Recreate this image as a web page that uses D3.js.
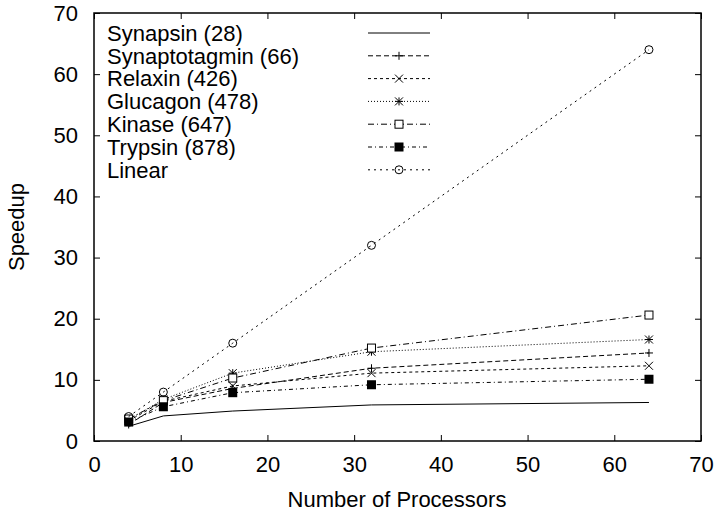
<!DOCTYPE html>
<html>
<head>
<meta charset="utf-8">
<script src="https://cdn.jsdelivr.net/npm/d3@7"></script>
<style>
  body { margin: 0; background: #fff; }
  svg text { font-family: "Liberation Sans", Arial, sans-serif; fill: #000; }
</style>
</head>
<body>
<svg id="chart" width="718" height="514"></svg>
<script>
// processor counts on the x axis
const processors = [4, 8, 16, 32, 64];

// speedup per protein (number of residues in brackets)
const synapsin      = [2.4, 4.1, 4.9, 5.9, 6.3];
const synaptotagmin = [2.7, 6.3, 8.6, 11.9, 14.4];
const relaxin       = [3.3, 6.5, 9.0, 11.1, 12.3];
const glucagon      = [3.5, 6.8, 11.1, 14.6, 16.6];
const kinase        = [3.6, 6.6, 10.3, 15.2, 20.6];
const trypsin       = [3.1, 5.6, 7.9, 9.2, 10.1];
const linear        = [4, 8, 16, 32, 64];

const seriesNames = ['Synapsin (28)', 'Synaptotagmin (66)', 'Relaxin (426)', 'Glucagon (478)',
                     'Kinase (647)', 'Trypsin (878)', 'Linear'];
const seriesValues = [synapsin, synaptotagmin, relaxin, glucagon, kinase, trypsin, linear];

const xTicks = [0, 10, 20, 30, 40, 50, 60, 70];
const yTicks = [0, 10, 20, 30, 40, 50, 60, 70];

// gnuplot-ish line / point styles
const dashes  = [null, '5,3', '3,3', '1,2', '6,3,1,3', '4,3,1,3', '2,4'];
const markers = ['none', 'plus', 'cross', 'star', 'box', 'boxfill', 'circle'];

const svg = d3.select('#chart');
const margin = { top: 13, right: 17, bottom: 73, left: 94 };
const W = 718, H = 514;
const fontSize = 22;

const x = d3.scaleLinear([0, 70], [margin.left, W - margin.right]);
const y = d3.scaleLinear([0, 70], [H - margin.bottom, margin.top]);

const series = seriesNames.map((name, i) => ({
  name,
  dash: dashes[i],
  marker: markers[i],
  points: processors.map((p, j) => ({ p, v: seriesValues[i][j] }))
}));

// axes with inward ticks on all four sides
function styleAxis(g) {
  g.select('.domain').remove();
  g.selectAll('.tick line').attr('stroke', '#000').attr('stroke-width', 1);
  g.selectAll('.tick text').attr('font-size', fontSize);
}

svg.append('g')
  .attr('transform', `translate(0,${y(0)})`)
  .call(d3.axisBottom(x).tickValues(xTicks).tickSizeInner(-6).tickSizeOuter(0).tickPadding(15))
  .call(styleAxis);

svg.append('g')
  .attr('transform', `translate(0,${y(70)})`)
  .call(d3.axisTop(x).tickValues(xTicks).tickSizeInner(-6).tickSizeOuter(0).tickFormat(''))
  .call(styleAxis);

svg.append('g')
  .attr('transform', `translate(${x(0)},0)`)
  .call(d3.axisLeft(y).tickValues(yTicks).tickSizeInner(-6).tickSizeOuter(0).tickPadding(16))
  .call(styleAxis);

svg.append('g')
  .attr('transform', `translate(${x(70)},0)`)
  .call(d3.axisRight(y).tickValues(yTicks).tickSizeInner(-6).tickSizeOuter(0).tickFormat(''))
  .call(styleAxis);

// frame
svg.append('rect')
  .attr('x', x(0)).attr('y', y(70))
  .attr('width', x(70) - x(0)).attr('height', y(0) - y(70))
  .attr('fill', 'none').attr('stroke', '#000').attr('stroke-width', 1.5);

// axis titles
svg.append('text')
  .attr('x', 397).attr('y', 507)
  .attr('text-anchor', 'middle').attr('font-size', fontSize)
  .text('Number of Processors');

svg.append('text')
  .attr('transform', `translate(24,${(y(0) + y(70)) / 2}) rotate(-90)`)
  .attr('text-anchor', 'middle').attr('font-size', fontSize)
  .text('Speedup');

function drawMarker(g, type, cx, cy) {
  const s = 4;
  const path = d => g.append('path').attr('d', d)
    .attr('stroke', '#000').attr('stroke-width', 1).attr('fill', 'none');
  const plus = `M${cx - s},${cy}H${cx + s}M${cx},${cy - s}V${cy + s}`;
  const cross = `M${cx - s},${cy - s}L${cx + s},${cy + s}M${cx - s},${cy + s}L${cx + s},${cy - s}`;
  if (type === 'plus') path(plus);
  else if (type === 'cross') path(cross);
  else if (type === 'star') path(plus + cross);
  else if (type === 'box') g.append('rect').attr('x', cx - s).attr('y', cy - s)
    .attr('width', 2 * s).attr('height', 2 * s).attr('fill', '#fff').attr('stroke', '#000');
  else if (type === 'boxfill') g.append('rect').attr('x', cx - s - 0.5).attr('y', cy - s - 0.5)
    .attr('width', 2 * s + 1).attr('height', 2 * s + 1).attr('fill', '#000');
  else if (type === 'circle') g.append('circle').attr('cx', cx).attr('cy', cy).attr('r', s)
    .attr('fill', 'none').attr('stroke', '#000');
}

const line = d3.line().x(d => x(d.p)).y(d => y(d.v));

const plot = svg.append('g');
series.forEach(s => {
  const g = plot.append('g');
  g.append('path')
    .datum(s.points)
    .attr('d', line)
    .attr('fill', 'none')
    .attr('stroke', '#000')
    .attr('stroke-width', 1)
    .attr('stroke-dasharray', s.dash);
  s.points.forEach(d => drawMarker(g, s.marker, x(d.p), y(d.v)));
});

// legend
const legend = svg.append('g');
const rowH = 22.8, row0 = 33;
series.forEach((s, i) => {
  const cy = row0 + i * rowH;
  legend.append('text')
    .attr('x', 107).attr('y', cy).attr('dy', '0.35em')
    .attr('font-size', fontSize)
    .text(s.name);
  legend.append('line')
    .attr('x1', 368).attr('x2', 430).attr('y1', cy).attr('y2', cy)
    .attr('stroke', '#000').attr('stroke-width', 1)
    .attr('stroke-dasharray', s.dash);
  if (s.marker !== 'none') drawMarker(legend, s.marker, 399, cy);
});
</script>
</body>
</html>
